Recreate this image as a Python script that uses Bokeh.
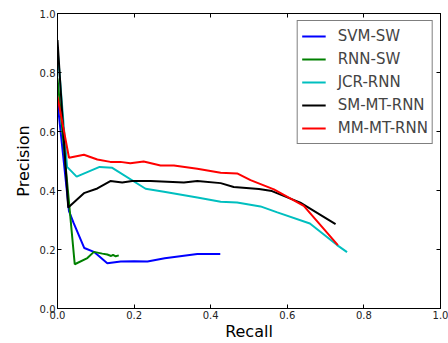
from bokeh.plotting import figure
from bokeh.models import LinearAxis, Range1d, Legend, LegendItem, FixedTicker
from bokeh.embed import file_html
from bokeh.resources import INLINE

# ---- data ----
svm_x = [0.0, 0.03, 0.042, 0.07, 0.095, 0.13, 0.165, 0.2, 0.235, 0.28, 0.365, 0.425]
svm_y = [0.70, 0.33, 0.29, 0.205, 0.192, 0.153, 0.159, 0.16, 0.159, 0.17, 0.185, 0.185]

rnn_x = [0.0, 0.045, 0.078, 0.095, 0.117, 0.13, 0.14, 0.145, 0.152, 0.16]
rnn_y = [0.78, 0.15, 0.171, 0.192, 0.186, 0.183, 0.178, 0.182, 0.177, 0.18]

jcr_x = [0.0, 0.025, 0.05, 0.11, 0.143, 0.23, 0.278, 0.365, 0.426, 0.469, 0.53, 0.574, 0.659, 0.73, 0.756]
jcr_y = [0.88, 0.48, 0.447, 0.48, 0.477, 0.406, 0.396, 0.376, 0.362, 0.359, 0.346, 0.326, 0.288, 0.215, 0.191]

sm_x = [0.0, 0.028, 0.069, 0.104, 0.138, 0.169, 0.195, 0.243, 0.33, 0.365, 0.426, 0.46, 0.526, 0.56, 0.634, 0.726]
sm_y = [0.91, 0.342, 0.391, 0.407, 0.432, 0.427, 0.432, 0.432, 0.427, 0.432, 0.425, 0.412, 0.405, 0.398, 0.359, 0.286]

mm_x = [0.0, 0.03, 0.069, 0.104, 0.138, 0.164, 0.19, 0.225, 0.269, 0.304, 0.365, 0.426, 0.469, 0.504, 0.565, 0.643, 0.732]
mm_y = [0.718, 0.511, 0.521, 0.505, 0.497, 0.497, 0.492, 0.498, 0.485, 0.485, 0.474, 0.46, 0.458, 0.435, 0.404, 0.348, 0.215]

series_names = ["SVM-SW", "RNN-SW", "JCR-RNN", "SM-MT-RNN", "MM-MT-RNN"]
series_colors = ["#0000ff", "#008000", "#00bfbf", "#000000", "#ff0000"]
series_x = [svm_x, rnn_x, jcr_x, sm_x, mm_x]
series_y = [svm_y, rnn_y, jcr_y, sm_y, mm_y]

tick_values = [0.0, 0.2, 0.4, 0.6, 0.8, 1.0]

FONT = "DejaVu Sans"

p = figure(width=448, height=343, output_backend="svg", toolbar_location=None,
           x_range=Range1d(0, 1), y_range=Range1d(0, 1),
           min_border_left=57, min_border_right=8, min_border_top=13, min_border_bottom=33)
p.xgrid.visible = False
p.ygrid.visible = False
p.outline_line_color = "black"
p.outline_line_width = 1
p.background_fill_color = "white"
p.border_fill_color = "white"

for ax in (p.xaxis[0], p.yaxis[0]):
    ax.ticker = FixedTicker(ticks=tick_values)
    ax.minor_tick_line_color = None
    ax.major_tick_in = 4
    ax.major_tick_out = 0
    ax.major_label_text_font = FONT
    ax.major_label_text_font_size = "10px"
    ax.major_label_text_color = "#222222"
    ax.axis_label_text_font = FONT
    ax.axis_label_text_font_size = "16px"
    ax.axis_label_text_font_style = "normal"
    ax.axis_label_text_color = "black"
    ax.axis_line_color = "black"
    ax.major_label_standoff = 2

p.xaxis[0].axis_label = "Recall"
p.xaxis[0].axis_label_standoff = 0
p.yaxis[0].axis_label = "Precision"
p.yaxis[0].axis_label_standoff = 4
p.xaxis[0].major_label_overrides = {v: f"{v:.1f}" for v in tick_values}
p.yaxis[0].major_label_overrides = {v: f"{v:.1f}" for v in tick_values}

for loc in ("above", "right"):
    ax = LinearAxis(ticker=FixedTicker(ticks=tick_values))
    ax.minor_tick_line_color = None
    ax.major_tick_in = 4
    ax.major_tick_out = 0
    ax.major_label_text_font_size = "1px"
    ax.major_label_text_alpha = 0
    ax.major_label_standoff = 0
    ax.axis_line_color = "black"
    p.add_layout(ax, loc)

items = []
for name, col, xs, ys in zip(series_names, series_colors, series_x, series_y):
    r = p.line(xs, ys, line_color=col, line_width=2)
    items.append(LegendItem(label=name, renderers=[r]))

legend = Legend(items=items, location="top_right")
legend.label_text_font = FONT
legend.label_text_font_size = "15px"
legend.glyph_width = 24
legend.glyph_height = 22
legend.label_height = 22
legend.label_standoff = 12
legend.spacing = 1
legend.padding = 4
legend.margin = 7
legend.border_line_color = "black"
legend.border_line_width = 1
legend.background_fill_color = "white"
legend.background_fill_alpha = 1
p.add_layout(legend)

open("out.html", "w").write(file_html(p, INLINE))
